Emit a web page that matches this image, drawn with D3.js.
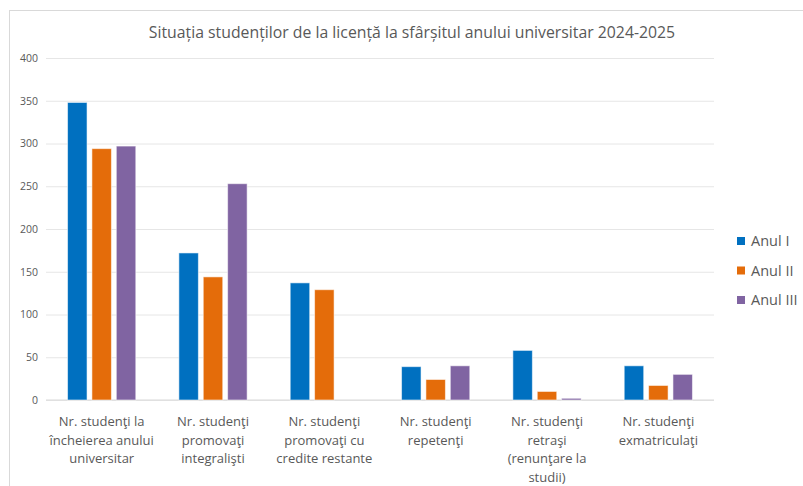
<!DOCTYPE html>
<html>
<head>
<meta charset="utf-8">
<script src="https://cdn.jsdelivr.net/npm/d3@7"></script>
<style>
  html, body { margin: 0; padding: 0; background: #fff; }
  svg { display: block; }
</style>
</head>
<body>
<svg id="chart" width="803" height="486"></svg>
<script>
const title = "Situația studenților de la licență la sfârșitul anului universitar 2024-2025";
const categories = [
  "Nr. studenţi la\nîncheierea anului\nuniversitar",
  "Nr. studenţi\npromovaţi\nintegralişti",
  "Nr. studenţi\npromovaţi cu\ncredite restante",
  "Nr. studenţi\nrepetenţi",
  "Nr. studenţi\nretraşi\n(renunţare la\nstudii)",
  "Nr. studenţi\nexmatriculaţi"
];
const seriesNames = ["Anul I", "Anul II", "Anul III"];
const anulI   = [348, 172, 137, 39, 58, 40];
const anulII  = [294, 144, 129, 24, 10, 17];
const anulIII = [297, 253, 0, 40, 2, 30];
const yTicks = [0, 50, 100, 150, 200, 250, 300, 350, 400];
const colors = ["#0070C0", "#E46C0A", "#8064A2"];

const seriesValues = [anulI, anulII, anulIII];
const svg = d3.select("#chart");
const textColor = "#595959";
const font = "'Open Sans', sans-serif";

// chart frame
svg.append("rect").attr("x", 9.5).attr("y", 10.5).attr("width", 800).attr("height", 490)
  .attr("fill", "#fff").attr("stroke", "#d9d9d9").attr("stroke-width", 1);

const mLeft = 46, mRight = 714, mTop = 58, mBottom = 400;

const y = d3.scaleLinear().domain([0, 400]).range([mBottom, mTop]);
const x = d3.scaleBand().domain(categories).range([mLeft, mRight]).paddingInner(0).paddingOuter(0);
const groupW = 68.25;
const xs = d3.scaleBand().domain(seriesNames).range([0, groupW]).paddingInner(0.2).paddingOuter(0);

// gridlines + y labels
const yAxis = d3.axisLeft(y).tickValues(yTicks).tickSize(-(mRight - mLeft)).tickPadding(8);
const gy = svg.append("g").attr("transform", `translate(${mLeft},0)`).call(yAxis);
gy.select(".domain").remove();
gy.selectAll(".tick line").attr("stroke", "#e6e6e6").attr("stroke-width", 1);
gy.selectAll(".tick text").attr("fill", textColor).style("font-family", font).style("font-size", "10.5px").attr("x", -8);

// baseline
svg.append("line").attr("x1", mLeft).attr("x2", mRight).attr("y1", y(0)).attr("y2", y(0))
  .attr("stroke", "#d9d9d9").attr("stroke-width", 1);

// bars
seriesNames.forEach((s, si) => {
  svg.append("g").selectAll("rect").data(categories).join("rect")
    .attr("x", c => x(c) + x.bandwidth() / 2 - groupW / 2 + xs(s))
    .attr("width", xs.bandwidth())
    .attr("y", (c, i) => y(seriesValues[si][i]))
    .attr("height", (c, i) => y(0) - y(seriesValues[si][i]))
    .attr("fill", colors[si])
    .attr("stroke", "rgba(255,255,255,0.55)")
    .attr("stroke-width", 1)
    .style("display", (c, i) => seriesValues[si][i] > 0 ? null : "none");
});

// category labels
const xAxis = d3.axisBottom(x).tickSize(0).tickFormat("");
const gx = svg.append("g").attr("transform", `translate(0,${mBottom})`).call(xAxis);
gx.select(".domain").remove();
gx.selectAll(".tick").each(function(c) {
  const lines = c.split("\n");
  const t = d3.select(this).append("text")
    .attr("fill", textColor).attr("text-anchor", "middle")
    .style("font-family", font).style("font-size", "13px");
  lines.forEach((ln, k) => {
    t.append("tspan").attr("x", 0).attr("y", 26 + k * 18.5).text(ln);
  });
});

// title
svg.append("text").attr("x", 412).attr("y", 38).attr("text-anchor", "middle")
  .attr("fill", textColor).style("font-family", font).style("font-size", "15.8px").text(title);

// legend
const lg = svg.append("g");
seriesNames.forEach((s, i) => {
  const yy = 241 + i * 29.5;
  lg.append("rect").attr("x", 737).attr("y", yy - 4).attr("width", 8).attr("height", 8).attr("fill", colors[i]);
  lg.append("text").attr("x", 751).attr("y", yy + 5).attr("fill", textColor)
    .style("font-family", font).style("font-size", "14.5px").text(s);
});
</script>
</body>
</html>
